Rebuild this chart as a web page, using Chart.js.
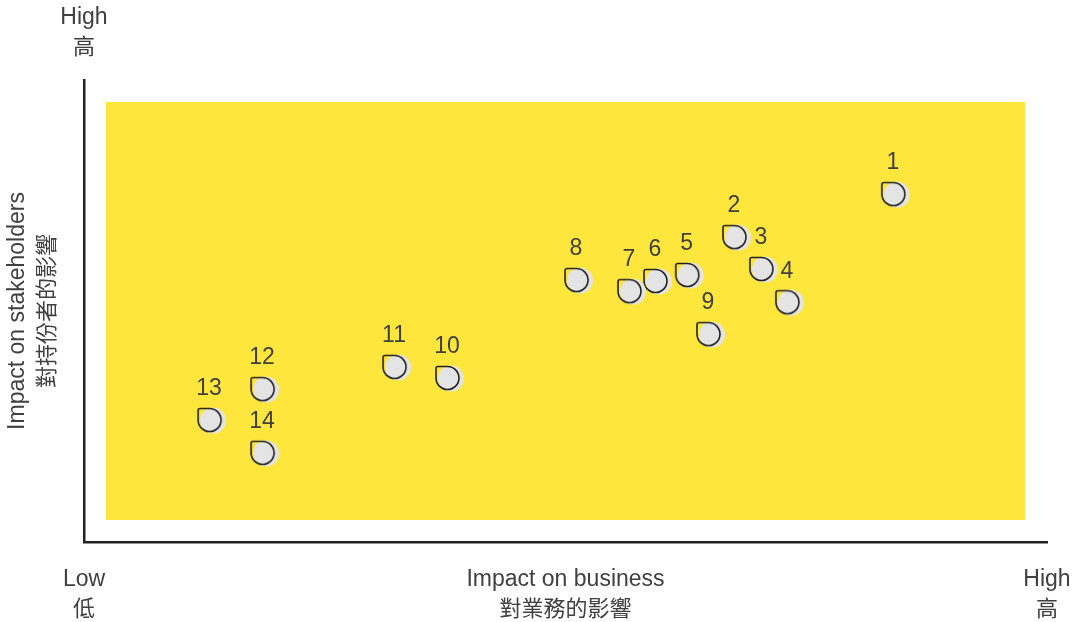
<!DOCTYPE html>
<html>
<head>
<meta charset="utf-8">
<script src="https://cdn.jsdelivr.net/npm/chart.js@4"></script>
<style>
  html, body { margin: 0; padding: 0; background: #ffffff; }
  #wrap { width: 1078px; height: 622px; position: relative; }
</style>
</head>
<body>
<div id="wrap"><canvas id="chart"></canvas></div>
<script>
  // ============ 数据 ============
  const pointLabels = ['1', '2', '3', '4', '5', '6', '7', '8', '9', '10', '11', '12', '13', '14'];
  // x: Impact on business (0 = Low, 10 = High)
  const businessImpact = [8.42, 6.77, 7.05, 7.32, 6.28, 5.95, 5.68, 5.13, 6.50, 3.79, 3.24, 1.87, 1.32, 1.87];
  // y: Impact on stakeholders (0 = Low, 10 = High)
  const stakeholderImpact = [7.53, 6.60, 5.91, 5.19, 5.78, 5.65, 5.43, 5.67, 4.50, 3.55, 3.79, 3.31, 2.64, 1.93];

  const axisMin = 0;
  const axisMax = 10;

  const FONT = '"Liberation Sans", Arial, sans-serif';
  const FONT_CJK = '"Noto Sans CJK TC", "Noto Sans CJK SC", sans-serif';
  const TEXT_COLOR = '#404040';

  /** 标记图形：灰色圆 + 左上角方形的黑色轮廓 */
  function makeMarker() {
    const c = document.createElement('canvas');
    c.width = 32;
    c.height = 32;
    const ctx = c.getContext('2d');

    ctx.fillStyle = '#e4e4e4';
    ctx.beginPath();
    ctx.arc(18, 16.5, 13, 0, Math.PI * 2);
    ctx.fill();

    const cx = 14.5, cy = 16, r = 11.5;
    ctx.strokeStyle = '#222222';
    ctx.lineWidth = 1.6;
    ctx.beginPath();
    ctx.moveTo(cx - r, cy);
    ctx.lineTo(cx - r, cy - r + 2);
    ctx.quadraticCurveTo(cx - r, cy - r, cx - r + 2, cy - r);
    ctx.lineTo(cx, cy - r);
    ctx.arc(cx, cy, r, -Math.PI / 2, Math.PI, false);
    ctx.closePath();
    ctx.stroke();
    return c;
  }

  // ============ 插件：黄色背景 + 文字 ============
  const quadrantPlugin = {
    id: 'quadrant',
    beforeDatasetsDraw(chart) {
      const { ctx, chartArea: a } = chart;
      const inset = 22;
      ctx.save();
      ctx.fillStyle = '#fee63d';
      ctx.fillRect(a.left + inset, a.top + inset, a.right - a.left - inset * 2, a.bottom - a.top - inset * 2);
      ctx.restore();
    },
    afterDatasetsDraw(chart) {
      const { ctx, chartArea: a } = chart;
      const meta = chart.getDatasetMeta(0);
      ctx.save();
      ctx.fillStyle = TEXT_COLOR;
      ctx.textAlign = 'center';
      ctx.textBaseline = 'middle';

      // 点编号
      ctx.font = '23px ' + FONT;
      meta.data.forEach(function (pt, i) {
        ctx.fillText(pointLabels[i], pt.x - 2, pt.y - 31);
      });

      // 轴端标签
      const xs = chart.scales.x;
      const ys = chart.scales.y;
      const xLow = xs.getPixelForValue(axisMin);
      const xHigh = xs.getPixelForValue(axisMax);
      const yTop = ys.getPixelForValue(axisMax);

      function twoLine(en, zh, x, y) {
        ctx.font = '23px ' + FONT;
        ctx.fillText(en, x, y);
        ctx.font = '22px ' + FONT_CJK;
        ctx.fillText(zh, x, y + 28);
      }
      twoLine('Low', '低', xLow, a.bottom + 38);
      twoLine('High', '高', xHigh, a.bottom + 38);
      twoLine('Impact on business', '對業務的影響', (a.left + a.right) / 2 + 0, a.bottom + 38);
      twoLine('High', '高', xLow, yTop - 62);

      // 纵轴标题
      ctx.translate(a.left - 66, (a.top + a.bottom) / 2);
      ctx.rotate(-Math.PI / 2);
      twoLine('Impact on stakeholders', '對持份者的影響', 0, 0);
      ctx.restore();
    },
  };

  new Chart(document.getElementById('chart'), {
    type: 'scatter',
    data: {
      datasets: [{
        data: businessImpact.map(function (x, i) { return { x: x, y: stakeholderImpact[i] }; }),
        pointStyle: makeMarker(),
        pointRadius: 16,
        pointHoverRadius: 16,
      }],
    },
    options: {
      responsive: true,
      maintainAspectRatio: false,
      animation: false,
      events: [],
      layout: { padding: { left: 76, top: 80, right: 31, bottom: 72 } },
      plugins: {
        legend: { display: false },
        tooltip: { enabled: false },
      },
      scales: {
        x: {
          min: axisMin,
          max: axisMax,
          grid: { display: false },
          ticks: { display: false },
          border: { display: true, color: '#222222', width: 2.5 },
        },
        y: {
          min: axisMin,
          max: axisMax,
          grid: { display: false },
          ticks: { display: false },
          border: { display: true, color: '#222222', width: 2.5 },
        },
      },
    },
    plugins: [quadrantPlugin],
  });
</script>
</body>
</html>
